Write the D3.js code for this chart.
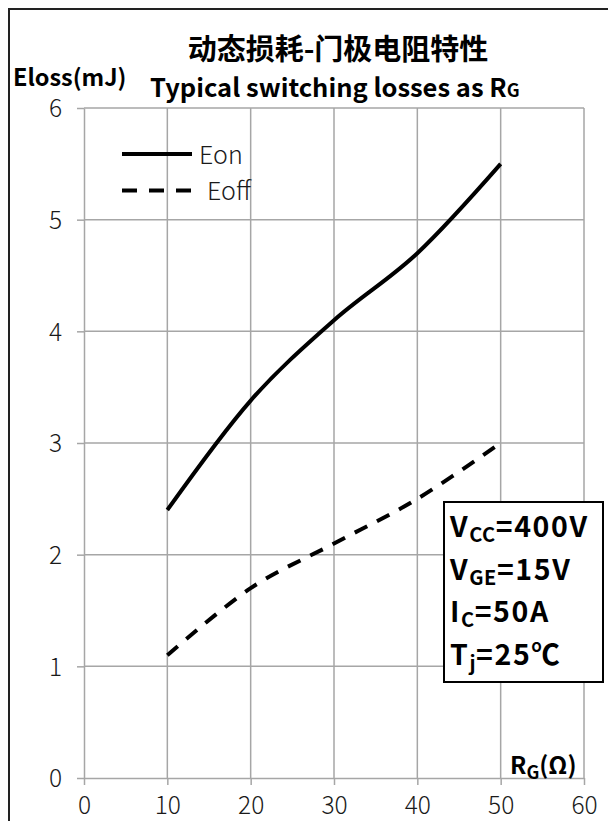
<!DOCTYPE html>
<html><head><meta charset="utf-8">
<script src="https://cdn.jsdelivr.net/npm/d3@7"></script>
<style>
html,body{margin:0;padding:0;background:#fff;}
svg{display:block;}
</style></head>
<body>
<svg id="chart" width="608" height="821"></svg>
<script>
// ---- data ----
const rgValues = [10, 20, 30, 40, 50];
const eonValues = [2.4, 3.38, 4.1, 4.7, 5.5];
const eoffValues = [1.1, 1.7, 2.1, 2.5, 3.0];
const xTickValues = [0, 10, 20, 30, 40, 50, 60];
const yTickValues = [0, 1, 2, 3, 4, 5, 6];
const seriesNames = ["Eon", "Eoff"];
const titleCN = "动态损耗-门极电阻特性";
const titleEN = "Typical switching losses as R";
const yTitle = "Eloss(mJ)";
const conditions = [["V", "CC", "=400V"], ["V", "GE", "=15V"], ["I", "C", "=50A"], ["T", "j", "=25℃"]];

const FONT = "'Noto Sans CJK SC', 'Noto Sans', sans-serif";
const svg = d3.select("#chart");
const x = d3.scaleLinear().domain([0, 60]).range([84, 584]);
const y = d3.scaleLinear().domain([0, 6]).range([778, 108]);
const GRID = "#a6a6a6";

// outer frame
svg.append("rect").attr("x", 9).attr("y", 9).attr("width", 700).attr("height", 900)
  .attr("fill", "none").attr("stroke", "#222").attr("stroke-width", 2);

// grid
svg.append("g").selectAll("line").data(xTickValues.slice(1)).join("line")
  .attr("x1", d => x(d)).attr("x2", d => x(d)).attr("y1", y(0)).attr("y2", y(6))
  .attr("stroke", GRID).attr("stroke-width", 1.5);
svg.append("g").selectAll("line").data(yTickValues.slice(1)).join("line")
  .attr("x1", x(0)).attr("x2", x(60)).attr("y1", d => y(d)).attr("y2", d => y(d))
  .attr("stroke", GRID).attr("stroke-width", 1.5);

// axes
const yAxis = svg.append("g").attr("transform", `translate(${x(0)},0)`)
  .call(d3.axisLeft(y).tickValues(yTickValues).tickFormat(d3.format("d"))
    .tickSize(7).tickPadding(15).tickSizeOuter(0));
const xAxis = svg.append("g").attr("transform", `translate(0,${y(0)})`)
  .call(d3.axisBottom(x).tickValues(xTickValues).tickFormat(d3.format("d"))
    .tickSize(7).tickPadding(15).tickSizeOuter(0));
[yAxis, xAxis].forEach(g => {
  g.select(".domain").attr("stroke", GRID).attr("stroke-width", 1.5);
  g.selectAll(".tick line").attr("stroke", GRID).attr("stroke-width", 1.5);
  g.selectAll(".tick text").attr("font-family", FONT).attr("font-size", 24.5)
    .attr("font-weight", 300).attr("fill", "#1a1a1a");
});
yAxis.selectAll(".tick text").attr("dy", "0.36em");
xAxis.selectAll(".tick text").attr("y", 36).attr("dy", 0);

// lines
const line = d3.line().x(d => x(d[0])).y(d => y(d[1])).curve(d3.curveCatmullRom.alpha(0));
svg.append("path").datum(rgValues.map((r, i) => [r, eonValues[i]]))
  .attr("d", line).attr("fill", "none").attr("stroke", "#000").attr("stroke-width", 4);
svg.append("path").datum(rgValues.map((r, i) => [r, eoffValues[i]]))
  .attr("d", line).attr("fill", "none").attr("stroke", "#000").attr("stroke-width", 4)
  .attr("stroke-dasharray", "14,11");

// legend
svg.append("line").attr("x1", 122).attr("x2", 192).attr("y1", 154).attr("y2", 154)
  .attr("stroke", "#000").attr("stroke-width", 4);
svg.append("line").attr("x1", 122).attr("x2", 192).attr("y1", 190.5).attr("y2", 190.5)
  .attr("stroke", "#000").attr("stroke-width", 4).attr("stroke-dasharray", "15,12");
svg.append("text").attr("x", 199).attr("y", 164).text(seriesNames[0])
  .attr("font-family", FONT).attr("font-size", 25).attr("font-weight", 300).attr("fill", "#1a1a1a");
svg.append("text").attr("x", 207).attr("y", 200).text(seriesNames[1])
  .attr("font-family", FONT).attr("font-size", 25).attr("font-weight", 300).attr("fill", "#1a1a1a");

// titles
svg.append("text").attr("x", 338).attr("y", 60).attr("text-anchor", "middle").text(titleCN)
  .attr("font-family", FONT).attr("font-size", 29).attr("font-weight", 700);
const t2 = svg.append("text").attr("x", 150).attr("y", 97)
  .attr("font-family", FONT).attr("font-size", 25.5).attr("font-weight", 700);
t2.append("tspan").text(titleEN);
t2.append("tspan").attr("font-size", 18).text("G");
svg.append("text").attr("x", 13).attr("y", 86).text(yTitle)
  .attr("font-family", FONT).attr("font-size", 23.5).attr("font-weight", 700);

// x title
const xt = svg.append("text").attr("x", 510).attr("y", 774)
  .attr("font-family", FONT).attr("font-size", 24).attr("font-weight", 700);
xt.append("tspan").text("R");
xt.append("tspan").attr("font-size", 18).attr("dy", 5).text("G");
xt.append("tspan").attr("dy", -5).text("(Ω)");

// conditions box
svg.append("rect").attr("x", 444).attr("y", 502).attr("width", 159).attr("height", 180)
  .attr("fill", "#fff").attr("stroke", "#000").attr("stroke-width", 2);
conditions.forEach((c, i) => {
  const t = svg.append("text").attr("x", 450).attr("y", 537 + i * 42.5)
    .attr("font-family", FONT).attr("font-size", 28.5).attr("font-weight", 700)
    .attr("letter-spacing", 1.6);
  t.append("tspan").text(c[0]);
  t.append("tspan").attr("font-size", 20).attr("dy", 5).attr("letter-spacing", 0.5).text(c[1]);
  t.append("tspan").attr("dy", -5).text(c[2]);
});
</script>
</body></html>
